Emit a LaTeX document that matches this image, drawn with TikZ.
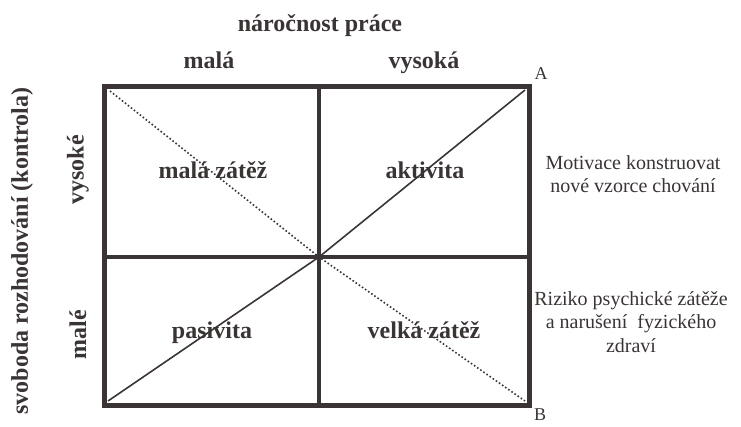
\documentclass[tikz,border=0pt]{standalone}
\usepackage{fontspec}
\setmainfont{Liberation Serif}
\usepackage{tikz}
\usetikzlibrary{positioning}

\definecolor{ink}{HTML}{3A3434}

\begin{document}
\begin{tikzpicture}[x=1pt,y=-1pt,
  label/.style={font=\fontsize{24}{28}\selectfont\bfseries, text=ink, inner sep=0pt, anchor=base},
  axis/.style={font=\fontsize{24}{28}\selectfont\bfseries, text=ink, inner sep=0pt},
  note/.style={font=\fontsize{20}{23.5}\selectfont, text=ink, align=center, inner sep=0pt},
  corner/.style={font=\fontsize{18}{20}\selectfont, text=ink, inner sep=0pt}]
  \useasboundingbox (0,0) rectangle (741,426);

  % rohy a středy rámečku
  \coordinate (tl) at (104,86);
  \coordinate (tr) at (529,86);
  \coordinate (br) at (529,405);
  \coordinate (bl) at (104,405);
  \coordinate (tm) at (319,86);
  \coordinate (bm) at (319,405);
  \coordinate (lm) at (104,257);
  \coordinate (rm) at (529,257);
  \coordinate (c) at (319,257);
  % vnitřní rohy pro úhlopříčky
  \coordinate (itl) at (110,91);
  \coordinate (itr) at (525,90);
  \coordinate (ibr) at (525,401);
  \coordinate (ibl) at (108,401);

  % úhlopříčky
  \draw[ink, line width=1.6pt] (ibl)--(c)--(itr);
  \draw[ink, line width=1.6pt, dash pattern=on 1.6pt off 2.2pt] (itl)--(c)--(ibr);

  % mřížka
  \draw[ink, line width=4.5pt] (tm)--(bm);
  \draw[ink, line width=4.5pt] (lm)--(rm);
  \draw[ink, line width=5pt] (tl)--(tr)--(br)--(bl)--cycle;
  \fill[ink] (c) circle (3.5);

  % popisky os
  \node[label] (narocnost) at (320,31) {náročnost práce};
  \node[label] (mala) at (209,68) {malá};
  \node[label] (vysoka) at (424,68) {vysoká};
  \node[axis, rotate=90] (svoboda) at (22,251) {svoboda rozhodování (kontrola)};
  \node[axis, rotate=90] (vysoke) at (78,170) {vysoké};
  \node[axis, rotate=90] (male) at (78,335) {malé};

  % kvadranty
  \node[label] (malazatez) at (213,178) {malá zátěž};
  \node[label] (aktivita) at (425,178) {aktivita};
  \node[label] (pasivita) at (212,338) {pasivita};
  \node[label] (velkazatez) at (424,338) {velká zátěž};

  % body A, B
  \node[corner] (A) at (541,74) {A};
  \node[corner] (B) at (540,415) {B};

  % poznámky vpravo
  \node[note] (motivace) at (633,174) {Motivace konstruovat\\nové vzorce chování};
  \node[note] (riziko) at (631,322) {Riziko psychické zátěže\\a narušení\ \ fyzického\\zdraví};
\end{tikzpicture}
\end{document}
